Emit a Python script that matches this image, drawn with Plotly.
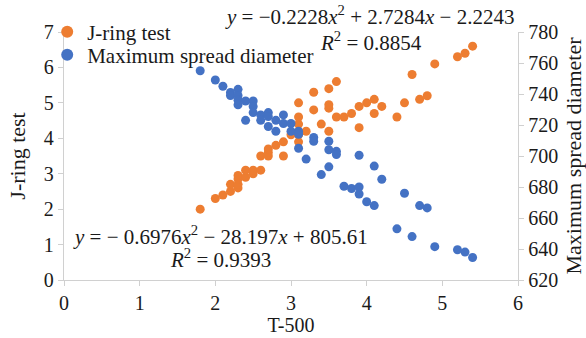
import plotly.graph_objects as go

# J-ring test (left axis) vs T-500
jr_x = [1.8, 2.0, 2.1, 2.2, 2.2, 2.3, 2.3, 2.3, 2.3, 2.4, 2.4, 2.5, 2.5, 2.6, 2.6,
        2.7, 2.7, 2.7, 2.8, 2.9, 2.9, 3.0, 3.1, 3.1, 3.1, 3.1, 3.1, 3.2, 3.3, 3.3,
        3.4, 3.5, 3.5, 3.5, 3.5, 3.6, 3.6, 3.7, 3.8, 3.9, 3.9, 4.0, 4.1, 4.1, 4.2,
        4.4, 4.5, 4.6, 4.7, 4.8, 4.9, 5.2, 5.3, 5.4]
jr_y = [2.0, 2.3, 2.4, 2.5, 2.7, 2.6, 2.7, 2.85, 2.95, 2.9, 3.1, 3.0, 3.1, 3.1, 3.5,
        3.5, 3.6, 3.7, 3.8, 3.5, 3.9, 4.1, 3.9, 4.1, 4.4, 4.6, 5.0, 4.2, 4.8, 5.3,
        4.4, 4.2, 4.85, 4.95, 5.4, 4.6, 5.6, 4.6, 4.7, 4.3, 4.9, 5.0, 4.7, 5.1, 4.9,
        4.6, 5.0, 5.8, 5.1, 5.2, 6.1, 6.3, 6.4, 6.6]

# Maximum spread diameter (right axis) vs T-500
ms_x = [1.8, 2.0, 2.1, 2.2, 2.2, 2.3, 2.3, 2.3, 2.3, 2.4, 2.4, 2.5, 2.5, 2.5,
        2.6, 2.6, 2.7, 2.7, 2.7, 2.8, 2.8, 2.9, 2.9, 3.0, 3.0, 3.1, 3.1, 3.1,
        3.2, 3.3, 3.3, 3.4, 3.5, 3.5, 3.5, 3.6, 3.6, 3.7, 3.8, 3.9, 3.9, 3.9,
        4.0, 4.1, 4.1, 4.2, 4.4, 4.5, 4.6, 4.7, 4.8, 4.9, 5.2, 5.3, 5.4]
ms_y = [755, 749, 745, 741, 739, 743, 739, 736, 733, 735.5, 723, 735.5, 732, 728,
        726.5, 723, 728, 725.5, 719, 723, 716, 726.5, 721, 721, 716, 716, 714, 705,
        698, 712, 709.5, 688, 709.5, 704, 693, 703, 701, 680.5, 679, 700.5, 680, 675.5,
        670.5, 693.5, 668, 685, 653, 676, 648, 668, 666.5, 641.5, 639.5, 638, 634.5]

x_ticks = [0, 1, 2, 3, 4, 5, 6]
left_ticks = [0, 1, 2, 3, 4, 5, 6, 7]
right_ticks = [620, 640, 660, 680, 700, 720, 740, 760, 780]

ORANGE = "#ED7D31"
BLUE = "#4472C4"
AXIS = "#D0D0D0"
TXT = "#1a1a1a"
FONT = "Liberation Serif"

fig = go.Figure()
fig.add_trace(go.Scatter(x=jr_x, y=jr_y, mode="markers", name="J-ring test",
                         marker=dict(color=ORANGE, size=9), yaxis="y", legend="legend"))
fig.add_trace(go.Scatter(x=ms_x, y=ms_y, mode="markers", name="Maximum spread diameter",
                         marker=dict(color=BLUE, size=9), yaxis="y2", legend="legend2"))

axis_common = dict(showline=True, linecolor=AXIS, linewidth=1.3, ticks="outside",
                   tickcolor=AXIS, ticklen=5, showgrid=False, zeroline=False,
                   automargin=False,
                   tickfont=dict(family=FONT, size=20, color=TXT))

leg_common = dict(xanchor="left", yanchor="middle", bgcolor="rgba(0,0,0,0)",
                  font=dict(family=FONT, size=21, color=TXT), itemsizing="constant")

fig.update_layout(
    width=586, height=338,
    margin=dict(l=64, r=68, t=32, b=58, autoexpand=False),
    paper_bgcolor="white", plot_bgcolor="white",
    font=dict(family=FONT, color=TXT),
    showlegend=True,
    legend=dict(x=-0.037, y=1.0, **leg_common),
    legend2=dict(x=-0.037, y=0.907, **leg_common),
    xaxis=dict(range=[0, 6], tickvals=x_ticks,
               title=dict(text="T-500", font=dict(family=FONT, size=20, color=TXT), standoff=0),
               **axis_common),
    yaxis=dict(range=[0, 7], tickvals=left_ticks,
               title=dict(text="J-ring test", font=dict(family=FONT, size=22, color=TXT), standoff=12),
               **axis_common),
    yaxis2=dict(range=[620, 780], tickvals=right_ticks, overlaying="y", side="right",
                title=dict(text="Maximum spread diameter", font=dict(family=FONT, size=22, color=TXT), standoff=8),
                **axis_common),
)

ann_font = dict(family=FONT, size=21, color=TXT)
fig.add_annotation(xref="paper", yref="paper", x=0.674, y=1.068, xanchor="center", yanchor="middle",
                   text="<i>y</i> = −0.2228<i>x</i><sup>2</sup> + 2.7284<i>x</i> − 2.2243",
                   showarrow=False, font=ann_font)
fig.add_annotation(xref="paper", yref="paper", x=0.676, y=0.96, xanchor="center", yanchor="middle",
                   text="<i>R</i><sup>2</sup> = 0.8854", showarrow=False, font=ann_font)
fig.add_annotation(xref="paper", yref="paper", x=0.344, y=0.178, xanchor="center", yanchor="middle",
                   text="<i>y</i> = − 0.6976<i>x</i><sup>2</sup> − 28.197<i>x</i> + 805.61",
                   showarrow=False, font=ann_font)
fig.add_annotation(xref="paper", yref="paper", x=0.344, y=0.088, xanchor="center", yanchor="middle",
                   text="<i>R</i><sup>2</sup> = 0.9393", showarrow=False, font=ann_font)

fig.write_html("out.html")
